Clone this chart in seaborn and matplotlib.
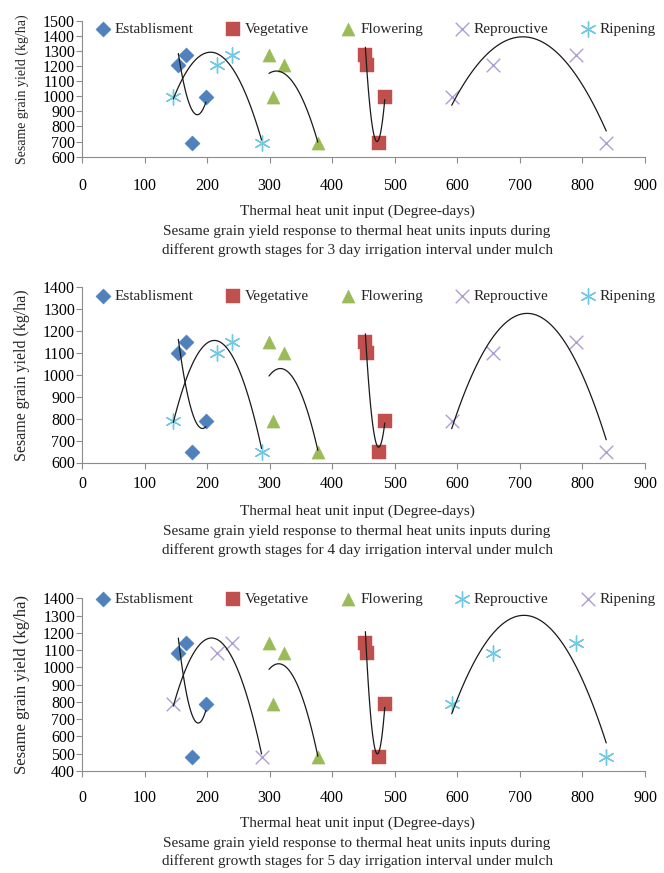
import numpy as np
import pandas as pd
import matplotlib
matplotlib.use("Agg")
import matplotlib.pyplot as plt
import seaborn as sns

sns.set_theme(style="white")
plt.rcParams['font.family'] = ['Liberation Serif', 'DejaVu Serif']

# ---------------- data ----------------
stages = ["Establisment", "Vegetative", "Flowering", "Reprouctive", "Ripening"]

# thermal heat unit input (degree-days) per stage
est_x = [154, 167, 176, 198]
veg_x = [453, 456, 475, 484]
flo_x = [299, 305, 323, 377]
rep_x = [591, 657, 790, 838]
rip_x = [146, 216, 240, 287]

# 3 day irrigation interval
est_y3 = [1208, 1270, 692, 992]
veg_y3 = [1270, 1208, 692, 992]
flo_y3 = [1270, 992, 1208, 692]
rep_y3 = [992, 1208, 1270, 692]
rip_y3 = [992, 1208, 1270, 692]

# 4 day irrigation interval
est_y4 = [1100, 1150, 650, 790]
veg_y4 = [1150, 1100, 650, 790]
flo_y4 = [1150, 790, 1100, 650]
rep_y4 = [790, 1100, 1150, 650]
rip_y4 = [790, 1100, 1150, 650]

# 5 day irrigation interval
est_y5 = [1085, 1143, 480, 786]
veg_y5 = [1143, 1085, 480, 786]
flo_y5 = [1143, 786, 1085, 480]
rep_y5 = [786, 1085, 1143, 480]
rip_y5 = [786, 1085, 1143, 480]

intervals = ["3", "4", "5"]
x_ticks = list(range(0, 1000, 100))
y_ticks3 = list(range(600, 1600, 100))
y_ticks4 = list(range(600, 1500, 100))
y_ticks5 = list(range(400, 1500, 100))

xlabel_text = "Thermal heat unit input (Degree-days)"
ylabel_text = "Sesame grain yield (kg/ha)"
caption_1 = "Sesame grain yield response to thermal heat units inputs during"
caption_2 = "different growth stages for {} day irrigation interval under mulch"

# ---------------- styles ----------------
BLUE = "#4F81BD"
RED = "#C0504D"
GREEN = "#9BBB59"
PURPLE = "#AE9ED2"
CYAN = "#72C8E0"
ASTER = (6, 2, 0)

style_a = {  # panels 1 and 2
    "Establisment": (BLUE, "D", 60),
    "Vegetative": (RED, "s", 100),
    "Flowering": (GREEN, "^", 90),
    "Reprouctive": (PURPLE, "x", 95),
    "Ripening": (CYAN, ASTER, 120),
}
style_b = dict(style_a)
style_b["Reprouctive"] = (CYAN, ASTER, 120)
style_b["Ripening"] = (PURPLE, "x", 95)

panels = [
    dict(ys=[est_y3, veg_y3, flo_y3, rep_y3, rip_y3], yt=y_ticks3, style=style_a,
         rect_px=(82, 20.7, 645, 156.7), pad=11, xl_y=211, c_y=(231, 250), yl_fs=10,
         leg_y=1.035),
    dict(ys=[est_y4, veg_y4, flo_y4, rep_y4, rip_y4], yt=y_ticks4, style=style_a,
         rect_px=(82, 287.3, 645, 462.5), pad=6, xl_y=511, c_y=(531, 550), yl_fs=11.5,
         leg_y=1.025),
    dict(ys=[est_y5, veg_y5, flo_y5, rep_y5, rip_y5], yt=y_ticks5, style=style_b,
         rect_px=(82, 598.3, 645, 771), pad=10, xl_y=823, c_y=(843, 861), yl_fs=12,
         leg_y=1.07),
]
xs = [est_x, veg_x, flo_x, rep_x, rip_x]

W, H = 664, 873
fig = plt.figure(figsize=(W / 100, H / 100), dpi=100)
GRAY = "#8c8c8c"

for p, interval in zip(panels, intervals):
    l, t, r, b = p["rect_px"]
    ax = fig.add_axes([l / W, 1 - b / H, (r - l) / W, (b - t) / H])
    for name, x, y in zip(stages, xs, p["ys"]):
        col, mk, sz = p["style"][name]
        df = pd.DataFrame({"x": x, "y": y})
        kw = dict(color=col, marker=mk, s=sz)
        if mk in ("x", ASTER):
            kw["linewidth"] = 1.0
        else:
            kw["edgecolor"] = col
            kw["linewidth"] = 0.3
        sns.scatterplot(data=df, x="x", y="y", ax=ax, label=name, zorder=3, **kw)
        sns.regplot(data=df, x="x", y="y", order=2, ci=None, scatter=False,
                    truncate=True, ax=ax,
                    line_kws=dict(color="#1a1a1a", lw=0.9, zorder=4))
    ax.set_xlim(0, 900)
    ax.set_ylim(p["yt"][0], p["yt"][-1])
    ax.set_xticks(x_ticks)
    ax.set_yticks(p["yt"])
    ax.set_xlabel("")
    ax.set_ylabel("")
    for s in ("top", "right"):
        ax.spines[s].set_visible(False)
    for s in ("left", "bottom"):
        ax.spines[s].set_color(GRAY)
        ax.spines[s].set_linewidth(0.8)
    ax.tick_params(axis="both", bottom=True, left=True, direction="out", length=4,
                   width=0.8, color=GRAY, labelsize=11.5, labelcolor="black")
    ax.tick_params(axis="x", pad=p["pad"])
    ax.tick_params(axis="y", pad=1)
    h, lb = ax.get_legend_handles_labels()
    ax.legend(h, lb, loc="upper left", bbox_to_anchor=(0.012, p["leg_y"]), ncol=5,
              frameon=False, fontsize=11, handletextpad=0.3, columnspacing=2.05,
              handlelength=1.0, borderaxespad=0.0)

    fig.text(357 / W, 1 - p["xl_y"] / H, xlabel_text, ha="center", va="center", fontsize=11)
    fig.text(357 / W, 1 - p["c_y"][0] / H, caption_1, ha="center", va="center", fontsize=11)
    fig.text(357 / W, 1 - p["c_y"][1] / H, caption_2.format(interval), ha="center",
             va="center", fontsize=11)
    fig.text(22 / W, 1 - ((t + b) / 2) / H, ylabel_text, rotation=90, ha="center",
             va="center", fontsize=p["yl_fs"])

fig.savefig("out.png", dpi=100)
